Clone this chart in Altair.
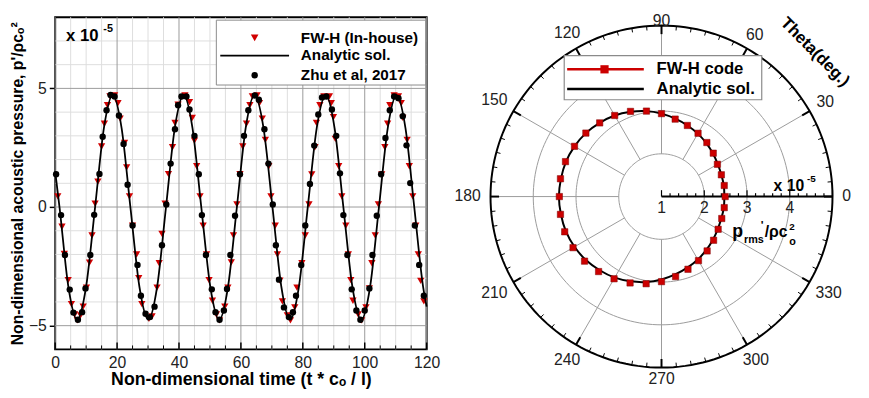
import altair as alt
import numpy as np
import pandas as pd

FONT = "Liberation Sans"

# ---------------- left panel data ----------------
fwh_t = [0.85, 2.2, 2.95, 4.2, 5.25, 6.3, 7.15, 8.2, 9.05, 10.1, 11.1, 11.9, 12.9, 13.8, 15.0, 15.9, 16.9, 17.7,
         19.2, 20.3, 21.0, 22.4, 23.1, 24.0, 25.0, 26.3, 27.0, 28.0, 30.3, 31.3, 32.9, 33.6, 34.5, 35.5, 36.6,
         37.9, 38.7, 39.7, 41.9, 43.4, 44.3, 45.0, 45.7, 46.8, 47.8, 48.9, 49.7, 50.8, 52.1, 53.1, 54.8, 55.8,
         56.9, 57.6, 58.7, 59.7, 60.6, 61.8, 62.9, 63.7, 65.2, 66.0, 66.9, 67.9, 69.0, 69.7, 71.1, 71.8, 72.6,
         73.4, 75.0, 76.0, 77.4, 78.1, 79.7, 80.8, 82.0, 82.9, 83.9, 84.4, 85.5, 86.8, 88.6, 89.2, 89.9, 90.5,
         91.6, 92.6, 93.9, 94.7, 95.5, 96.2, 97.9, 99.0, 100.4, 101.5, 102.3, 103.4, 104.4, 105.5, 106.5, 107.4,
         108.1, 109.5, 110.9, 111.8, 112.3, 113.7, 114.4, 115.5, 116.5, 117.3, 118.1, 119.1]
fwh_p = [0.45, -0.83, -1.98, -3.08, -4.09, -4.53, -4.78, -4.57, -4.2, -3.4, -2.34, -1.2, 0.14, 1.07, 2.55, 3.51,
         4.29, 4.66, 4.7, 4.38, 3.73, 2.7, 1.67, 0.45, -0.78, -2.0, -3.0, -4.09, -4.71, -4.61, -3.4, -2.37, -1.13,
         0.14, 1.39, 2.52, 3.55, 4.31, 4.7, 4.42, 3.76, 2.8, 1.72, 0.45, -0.79, -2.0, -3.08, -3.95, -4.53, -4.78,
         -4.2, -3.4, -2.33, -1.2, 0.11, 1.39, 2.55, 3.51, 4.29, 4.66, 4.7, 4.38, 3.73, 2.83, 1.72, 0.45, -0.79,
         -2.0, -3.1, -3.98, -4.57, -4.78, -4.23, -3.4, -2.37, -1.2, 0.11, 1.38, 2.52, 3.55, 4.29, 4.66, 4.66,
         4.38, 3.79, 2.87, 1.72, 0.45, -0.79, -2.0, -3.08, -3.95, -4.53, -4.78, -4.23, -3.43, -2.37, -1.2, 0.11,
         1.38, 2.52, 3.51, 4.29, 4.7, 4.66, 4.38, 3.76, 2.83, 1.72, 0.45, -0.79, -2.0, -3.11, -3.98]
zhu_t = [0.3, 1.9, 3.15, 4.7, 5.9, 7.35, 8.7, 9.8, 11.35, 12.6, 14.3, 15.35, 16.6, 17.9, 19.2, 20.6, 22.1, 23.4,
         25.0, 26.6, 27.7, 29.2, 30.6, 32.1, 34.5, 35.9, 37.3, 38.7, 39.7, 40.8, 42.4, 43.4, 45.0, 46.4, 47.4,
         48.7, 50.6, 51.8, 53.1, 54.5, 55.5, 56.6, 58.1, 59.7, 61.0, 62.4, 64.5, 65.8, 67.6, 68.9, 70.3, 71.3,
         72.3, 73.9, 75.5, 76.8, 77.8, 79.5, 80.8, 82.3, 83.7, 85.0, 86.2, 87.6, 89.4, 90.8, 92.0, 93.1, 94.4,
         95.8, 97.3, 98.6, 100.0, 101.5, 102.5, 103.9, 105.3, 106.7, 108.1, 109.5, 110.9, 112.3, 113.5, 114.7,
         116.2, 117.6, 119.1]
zhu_p = [1.38, -0.34, -2.02, -3.48, -4.45, -4.75, -4.43, -3.43, -2.02, -0.33, 1.39, 2.96, 4.08, 4.72, 4.66, 3.86,
         2.66, 0.94, -0.78, -2.44, -3.74, -4.5, -4.64, -4.2, -1.61, 0.11, 1.83, 3.28, 4.29, 4.66, 4.66, 4.11, 3.0,
         1.38, -0.34, -2.02, -3.47, -4.43, -4.75, -4.36, -3.45, -2.02, -0.37, 1.38, 3.0, 4.08, 4.7, 4.52, 3.28,
         1.83, 0.11, -1.61, -3.06, -4.23, -4.64, -4.43, -3.74, -2.44, -0.78, 0.97, 2.59, 3.9, 4.62, 4.66, 4.11,
         3.0, 1.42, -0.34, -2.02, -3.47, -4.36, -4.75, -4.36, -3.43, -2.02, -0.37, 1.38, 2.91, 4.08, 4.66, 4.59,
         3.83, 2.6, 1.01, -0.78, -2.44, -3.74]
ana_t = [0.0, 1.4, 4.25, 7.1, 10.0, 12.9, 15.75, 18.6, 21.45, 24.3, 27.2, 30.1, 32.95, 35.8, 38.65, 41.5, 44.35,
         47.2, 50.1, 53.0, 55.85, 58.7, 61.55, 64.4, 67.3, 70.2, 73.05, 75.9, 78.75, 81.6, 84.5, 87.4, 90.25,
         93.1, 96.0, 98.9, 101.75, 104.6, 107.45, 110.3, 113.15, 116.0, 118.85, 120.0]
ana_p = [1.5, 0.0, -3.35, -4.75, -3.35, 0.0, 3.34, 4.72, 3.34, 0.0, -3.35, -4.75, -3.35, 0.0, 3.34, 4.72, 3.34,
         0.0, -3.35, -4.75, -3.35, 0.0, 3.34, 4.72, 3.34, 0.0, -3.35, -4.75, -3.35, 0.0, 3.34, 4.72, 3.34,
         0.0, -3.35, -4.75, -3.35, 0.0, 3.34, 4.72, 3.34, 0.0, -3.35, -4.2]
x_major = [0, 20, 40, 60, 80, 100, 120]
x_minor = [5, 10, 15, 25, 30, 35, 45, 50, 55, 65, 70, 75, 85, 90, 95, 105, 110, 115]
y_major = [-5, 0, 5]
y_minor = [-4, -3, -2, -1, 1, 2, 3, 4, 6, 7]
left_legend = ["FW-H (In-house)", "Analytic sol.", "Zhu et al, 2017"]

# ---------------- right panel data ----------------
theta_deg = list(range(0, 360, 10))
fwh_r = [2.49, 2.49, 2.49, 2.51, 2.58, 2.65, 2.71, 2.77, 2.84, 2.94, 3.03, 3.12, 3.19, 3.25, 3.31, 3.35, 3.39,
         3.40, 3.39, 3.40, 3.41, 3.39, 3.35, 3.29, 3.22, 3.15, 3.07, 2.99, 2.90, 2.81, 2.73, 2.66, 2.59, 2.53,
         2.50, 2.49]
ana_r = [2.47, 2.48, 2.49, 2.52, 2.57, 2.63, 2.70, 2.77, 2.85, 2.94, 3.03, 3.11, 3.19, 3.25, 3.31, 3.35, 3.38,
         3.39, 3.40, 3.39, 3.38, 3.35, 3.31, 3.25, 3.19, 3.11, 3.03, 2.94, 2.85, 2.77, 2.70, 2.63, 2.57, 2.52,
         2.49, 2.48]
ring_r = [2, 3, 4]
outer_r = 5
r_min = 1
spoke_deg = [0, 30, 60, 90, 120, 150, 180, 210, 240, 270, 300, 330]
angle_labels = ["0", "30", "60", "90", "120", "150", "180", "210", "240", "270", "300", "330"]
radial_vals = [1, 2, 3, 4]
radial_labels = ["1", "2", "3", "4"]
right_legend = ["FW-H code", "Analytic sol."]

# ================= LEFT PANEL =================
W1, H1 = 378, 338
xs = alt.Scale(domain=[0, 120], nice=False, zero=False)
ys = alt.Scale(domain=[-6, 8], nice=False, zero=False)
xax = alt.Axis(values=x_major, grid=False, domain=False, ticks=False, labelFlush=False, labelFont=FONT,
               labelFontSize=16, labelColor="#222", labelPadding=5, title="Non-dimensional time (t * cₒ / l)",
               titleFont=FONT, titleFontSize=18, titleFontWeight="bold", titleColor="black", titlePadding=1)
yax = alt.Axis(values=y_major, grid=False, domain=False, ticks=True, tickSize=6, tickColor="black",
               tickWidth=1.5, labelFont=FONT, labelFontSize=16, labelColor="#222", labelPadding=3,
               title="Non-dimensional acoustic pressure, p'/ρcₒ²", titleFont=FONT, titleFontSize=16,
               titleFontWeight="bold", titleColor="black", titlePadding=3)
X = alt.X("x:Q", scale=xs, axis=xax)
Y = alt.Y("y:Q", scale=ys, axis=yax)

gx_min = alt.Chart(pd.DataFrame({"x": x_minor})).mark_rule(color="#dddddd", strokeWidth=1).encode(x=X)
gy_min = alt.Chart(pd.DataFrame({"y": y_minor})).mark_rule(color="#dddddd", strokeWidth=1).encode(y=Y)
gx_maj = alt.Chart(pd.DataFrame({"x": x_major})).mark_rule(color="#9a9a9a", strokeWidth=1).encode(x=X)
gy_maj = alt.Chart(pd.DataFrame({"y": y_major})).mark_rule(color="#9a9a9a", strokeWidth=1).encode(y=Y)
tk_maj = alt.Chart(pd.DataFrame({"x": x_major})).mark_rule(color="black", strokeWidth=1.5).encode(
    x=X, y=alt.value(H1), y2=alt.value(H1 - 7))
tk_min = alt.Chart(pd.DataFrame({"x": x_minor})).mark_rule(color="black", strokeWidth=1).encode(
    x=X, y=alt.value(H1), y2=alt.value(H1 - 4))

tri = alt.Chart(pd.DataFrame({"x": fwh_t, "y": fwh_p})).mark_point(
    shape="triangle-down", filled=True, color="#d10000", size=55, opacity=1).encode(x=X, y=Y)
line = alt.Chart(pd.DataFrame({"x": ana_t, "y": ana_p})).mark_line(
    color="black", strokeWidth=1.8, interpolate="monotone").encode(x=X, y=Y)
dots = alt.Chart(pd.DataFrame({"x": zhu_t, "y": zhu_p})).mark_circle(
    color="black", size=42, opacity=1).encode(x=X, y=Y)

one = pd.DataFrame({"a": [0]})
exp_a = alt.Chart(one).mark_text(text="x 10", font=FONT, fontSize=17, fontWeight="bold", align="left",
                                 baseline="middle", color="black").encode(x=alt.value(11), y=alt.value(19))
exp_b = alt.Chart(one).mark_text(text="-5", font=FONT, fontSize=11, fontWeight="bold", align="left",
                                 baseline="middle", color="black").encode(x=alt.value(49), y=alt.value(12))

lg_box = alt.Chart(one).mark_rect(fill="white", stroke="#8a8a8a", strokeWidth=1).encode(
    x=alt.value(164), x2=alt.value(377), y=alt.value(3), y2=alt.value(69))
lg_tri = alt.Chart(one).mark_point(shape="triangle-down", filled=True, color="#d10000", size=60,
                                   opacity=1).encode(x=alt.value(203), y=alt.value(21))
lg_line = alt.Chart(one).mark_rule(color="black", strokeWidth=1.8).encode(
    x=alt.value(168), x2=alt.value(238), y=alt.value(39))
lg_dot = alt.Chart(one).mark_circle(color="black", size=42, opacity=1).encode(x=alt.value(203), y=alt.value(59))
lg_text = alt.Chart(pd.DataFrame({"lab": left_legend, "py": [21, 39, 59]})).mark_text(
    font=FONT, fontSize=15.5, fontWeight="bold", align="left", baseline="middle", color="black").encode(
    x=alt.value(250), y=alt.Y("py:Q", scale=None), text="lab:N")

left = alt.layer(gx_min, gy_min, gx_maj, gy_maj, tk_maj, tk_min, tri, line, dots, exp_a, exp_b,
                 lg_box, lg_tri, lg_line, lg_dot, lg_text).properties(
    width=W1, height=H1, view=alt.ViewBackground(stroke="black", strokeWidth=2))

# invisible spacer that pushes the left panel down a little
spacer = alt.Chart(one).mark_rule(opacity=0, strokeWidth=1).encode(
    x=alt.value(0), x2=alt.value(10), y=alt.value(1)).properties(width=W1, height=2)
left_col = alt.vconcat(spacer, left, spacing=0)

# ================= RIGHT PANEL =================
PX = 43.5
W2, H2 = 415, 382
pole_x, pole_y = 213, 187.5
rx = alt.Scale(domain=[-pole_x / PX, (W2 - pole_x) / PX], nice=False, zero=False)
ry = alt.Scale(domain=[-(H2 - pole_y) / PX, pole_y / PX], nice=False, zero=False)
RX = alt.X("x:Q", scale=rx, axis=None)
RY = alt.Y("y:Q", scale=ry, axis=None)


def cart(r, deg):
    rho = np.asarray(r, dtype=float) - r_min
    a = np.deg2rad(np.asarray(deg, dtype=float))
    return rho * np.cos(a), rho * np.sin(a)


circ_deg = np.arange(0, 361, 2)
rows = []
for rr in ring_r + [outer_r]:
    cx, cy = cart(np.full(circ_deg.shape, rr), circ_deg)
    for i, (a, b) in enumerate(zip(cx, cy)):
        rows.append({"ring": rr, "i": i, "x": a, "y": b})
rings_df = pd.DataFrame(rows)
rings = alt.Chart(rings_df[rings_df.ring < outer_r]).mark_line(color="#9a9a9a", strokeWidth=1).encode(
    x=RX, y=RY, detail="ring:N", order="i:Q")
outer = alt.Chart(rings_df[rings_df.ring == outer_r]).mark_line(color="black", strokeWidth=2).encode(
    x=RX, y=RY, order="i:Q")

sx1, sy1 = cart([2] * len(spoke_deg), spoke_deg)
sx2, sy2 = cart([outer_r] * len(spoke_deg), spoke_deg)
spokes = alt.Chart(pd.DataFrame({"x": sx1, "y": sy1, "x2": sx2, "y2": sy2})).mark_rule(
    color="#9a9a9a", strokeWidth=1).encode(x=RX, y=RY, x2="x2:Q", y2="y2:Q")

tdeg = np.arange(0, 360, 5)
tlen = np.where(tdeg % 30 == 0, 0.2, 0.1)
ox1, oy1 = cart(np.full(tdeg.shape, outer_r, dtype=float), tdeg)
ox2, oy2 = cart(outer_r - tlen, tdeg)
oticks = alt.Chart(pd.DataFrame({"x": ox1, "y": oy1, "x2": ox2, "y2": oy2, "w": np.where(tdeg % 30 == 0, 2, 1)})
                   ).mark_rule(color="black").encode(x=RX, y=RY, x2="x2:Q", y2="y2:Q",
                                                     strokeWidth=alt.StrokeWidth("w:Q", scale=None))

raxis = alt.Chart(pd.DataFrame({"x": [0.0], "y": [0.0], "x2": [outer_r - r_min], "y2": [0.0]})).mark_rule(
    color="black", strokeWidth=2).encode(x=RX, y=RY, x2="x2:Q", y2="y2:Q")
rt_vals = np.round(np.arange(r_min, outer_r + 0.001, 0.2), 2)
rt_len = np.where(np.isclose(rt_vals % 1, 0) | np.isclose(rt_vals % 1, 1), 0.15, 0.08)
rticks = alt.Chart(pd.DataFrame({"x": rt_vals - r_min, "y": 0.0, "y2": rt_len})).mark_rule(
    color="black", strokeWidth=1.2).encode(x=RX, y=RY, y2="y2:Q")
rlabels = alt.Chart(pd.DataFrame({"x": np.array(radial_vals) - r_min, "y": -0.27, "t": radial_labels})
                    ).mark_text(font=FONT, fontSize=16, color="#222", baseline="middle").encode(
    x=RX, y=RY, text="t:N")

lab_x, lab_y = [], []
for d, lab in zip(spoke_deg, angle_labels):
    a = np.deg2rad(d)
    rr_ = (184 + 0.5 * 8.9 * len(lab) * abs(np.cos(a)) + 1.5 * abs(np.sin(a))) / PX
    lab_x.append(rr_ * np.cos(a))
    # keep the top label inside the panel so the layout does not shift
    lab_y.append(min(rr_ * np.sin(a), (pole_y - 9) / PX))
alabels = alt.Chart(pd.DataFrame({"x": lab_x, "y": lab_y, "t": angle_labels})).mark_text(
    font=FONT, fontSize=16, color="#222", baseline="middle").encode(x=RX, y=RY, text="t:N")
theta_t = alt.Chart(pd.DataFrame({"x": [3.59], "y": [3.38]})).mark_text(
    text="Theta(deg.)", font=FONT, fontSize=17, fontWeight="bold", angle=45, color="black",
    baseline="middle").encode(x=RX, y=RY)

fx, fy = cart(fwh_r, theta_deg)
ax_, ay_ = cart(ana_r, theta_deg)
ana_line = alt.Chart(pd.DataFrame({"x": ax_, "y": ay_, "i": range(len(ax_))})).mark_line(
    color="black", strokeWidth=2, interpolate="cardinal-closed").encode(x=RX, y=RY, order="i:Q")
fwh_sq = alt.Chart(pd.DataFrame({"x": fx, "y": fy})).mark_square(
    color="#cc0000", size=42, opacity=1, stroke="#7a0000", strokeWidth=0.5).encode(x=RX, y=RY)

ex1 = alt.Chart(one).mark_text(text="x 10", font=FONT, fontSize=16, fontWeight="bold", align="left",
                               baseline="middle", color="black").encode(x=alt.value(327), y=alt.value(177))
ex2 = alt.Chart(one).mark_text(text="-5", font=FONT, fontSize=10, align="left", fontWeight="bold",
                               baseline="middle", color="black").encode(x=alt.value(361), y=alt.value(170))
pl = []
for txt, px_, py_, fs in [("p", 285, 229, 18), ("rms", 297, 235, 11), ("'", 314, 220, 12),
                          ("/ρc", 318, 229, 16), ("2", 343, 222, 10), ("o", 343, 237, 11)]:
    pl.append(alt.Chart(one).mark_text(text=txt, font=FONT, fontSize=fs, fontWeight="bold", align="left",
                                       baseline="alphabetic", color="black").encode(
        x=alt.value(px_), y=alt.value(py_)))

rg_box = alt.Chart(one).mark_rect(fill="white", stroke="#8a8a8a", strokeWidth=1.2).encode(
    x=alt.value(114), x2=alt.value(315), y=alt.value(44), y2=alt.value(89))
rg_red = alt.Chart(one).mark_rule(color="#cc0000", strokeWidth=2.5).encode(
    x=alt.value(117), x2=alt.value(195), y=alt.value(58))
rg_sq = alt.Chart(one).mark_square(color="#cc0000", size=70, opacity=1).encode(x=alt.value(155), y=alt.value(58))
rg_blk = alt.Chart(one).mark_rule(color="black", strokeWidth=2.5).encode(
    x=alt.value(117), x2=alt.value(195), y=alt.value(78))
rg_text = alt.Chart(pd.DataFrame({"lab": right_legend, "py": [58, 78]})).mark_text(
    font=FONT, fontSize=17, fontWeight="bold", align="left", baseline="middle", color="black").encode(
    x=alt.value(208), y=alt.Y("py:Q", scale=None), text="lab:N")

right = alt.layer(rings, spokes, outer, oticks, raxis, rticks, rlabels, alabels, theta_t, ana_line, fwh_sq,
                  ex1, ex2, *pl, rg_box, rg_red, rg_sq, rg_blk, rg_text).properties(width=W2, height=H2)

chart = alt.hconcat(left_col, right, spacing=10).properties(
    padding={"left": 0, "top": 0, "right": 0, "bottom": 0}
).configure_view(stroke="transparent")

chart.save("out.html", embed_options={"renderer": "svg", "actions": False})
